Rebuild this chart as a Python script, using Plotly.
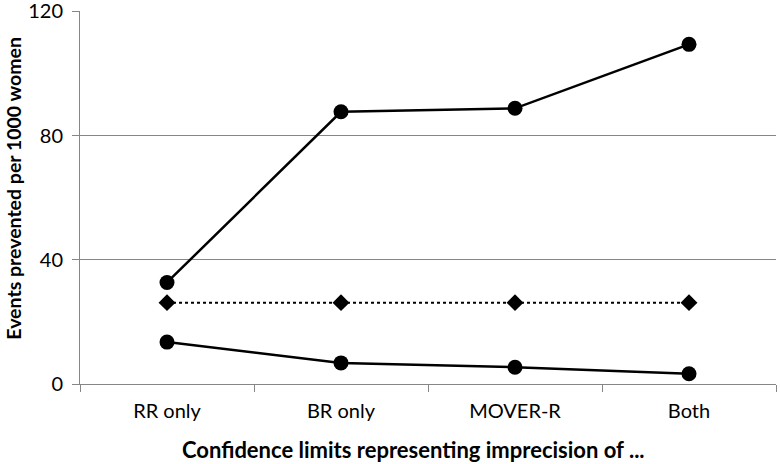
import plotly.graph_objects as go

categories = ["RR only", "BR only", "MOVER-R", "Both"]
upper = [32.7, 87.7, 88.8, 109.4]
point_est = [26.2, 26.2, 26.2, 26.2]
lower = [13.5, 6.8, 5.4, 3.3]
y_ticks = [0, 40, 80, 120]

FONT = "Lato"
GRAY = "#868686"

fig = go.Figure()
fig.add_trace(go.Scatter(x=categories, y=upper, mode="lines+markers",
                         line=dict(color="black", width=2.5),
                         marker=dict(symbol="circle", size=15, color="black"),
                         showlegend=False, cliponaxis=False))
fig.add_trace(go.Scatter(x=categories, y=point_est, mode="lines+markers",
                         line=dict(color="black", width=2, dash="dot"),
                         marker=dict(symbol="diamond", size=13, color="black"),
                         showlegend=False, cliponaxis=False))
fig.add_trace(go.Scatter(x=categories, y=lower, mode="lines+markers",
                         line=dict(color="black", width=2.5),
                         marker=dict(symbol="circle", size=15, color="black"),
                         showlegend=False, cliponaxis=False))

fig.update_layout(
    width=780, height=464,
    margin=dict(l=80, r=4, t=11, b=80, autoexpand=False),
    paper_bgcolor="white", plot_bgcolor="white",
    font=dict(family=FONT, color="black", size=20),
    xaxis=dict(
        type="category", tickson="boundaries", ticks="outside", ticklen=7,
        tickcolor=GRAY, showline=True, linecolor=GRAY, linewidth=1,
        showgrid=False, range=[-0.5, 3.5], automargin=False,
        tickfont=dict(size=20, family=FONT), ticklabelstandoff=9,
    ),
    yaxis=dict(
        range=[0, 120.15], tickvals=y_ticks, ticks="outside", ticklen=7,
        tickcolor=GRAY, showline=True, linecolor=GRAY, linewidth=1,
        showgrid=True, gridcolor=GRAY, gridwidth=1, zeroline=False,
        tickfont=dict(size=20, family=FONT), automargin=False,
        ticklabeloverflow="allow", ticklabelstandoff=5,
    ),
    annotations=[
        dict(text="<b>Confidence limits representing imprecision of ...</b>",
             xref="paper", yref="paper", x=0.479, y=-0.175,
             xanchor="center", yanchor="middle", showarrow=False,
             font=dict(size=22, family=FONT)),
        dict(text="<b>Events prevented per 1000 women</b>",
             xref="paper", yref="paper", x=-0.096, y=0.524,
             xanchor="center", yanchor="middle", showarrow=False,
             textangle=-90, font=dict(size=19.5, family=FONT)),
    ],
)

fig.write_html("out.html", config={"displayModeBar": False},
               post_script="document.body.style.margin='0';document.body.style.overflow='hidden';")
